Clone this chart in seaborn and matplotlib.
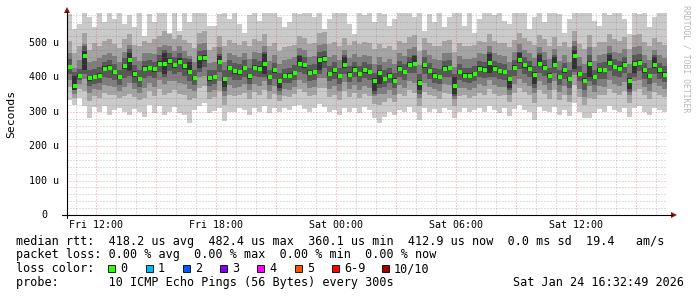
import numpy as np
import matplotlib
matplotlib.use("Agg")
import matplotlib.pyplot as plt
import seaborn as sns
from matplotlib.lines import Line2D
from matplotlib.patches import Rectangle, Polygon
import matplotlib.transforms as mtransforms

# ---------------- data (microseconds, 15-minute steps) ----------------
start_hour = 10.547          # Fri 10:32:49, hours since Fri 00:00
step_hours = 0.25
end_hour = 40.547            # Sat 16:32:49

median = [430,375,405,462,397,402,405,425,428,415,
          400,432,450,410,395,425,427,423,440,440,
          447,435,446,433,417,398,455,456,398,400,
          445,395,427,418,415,427,403,428,425,440,
          400,420,388,403,405,412,440,435,413,415,
          450,453,410,420,403,435,408,422,410,420,
          415,390,412,395,405,390,425,415,437,440,
          385,435,418,405,402,425,427,375,415,405,
          405,410,425,422,443,425,418,415,395,428,
          450,435,425,408,440,428,405,436,400,420,
          395,462,410,390,440,400,420,421,443,430,
          425,437,390,440,443,420,403,435,420,408]

ping_min = [335,320,340,318,282,315,300,318,290,305,
            312,300,292,308,300,285,320,295,318,290,
            300,315,296,292,268,305,318,325,295,302,
            310,272,300,298,310,305,290,312,300,318,
            296,310,300,312,305,318,320,308,300,312,
            322,315,298,305,292,310,300,312,295,315,
            305,282,268,285,300,290,305,298,315,300,
            275,310,300,308,295,312,305,282,300,312,
            298,305,310,300,318,305,296,310,288,308,
            320,305,300,276,315,302,298,315,292,305,
            288,325,300,282,282,295,308,300,318,305,
            300,312,285,310,318,300,292,310,305,300]

ping_2 = [372,340,365,360,332,345,340,355,350,348,
          340,345,352,342,335,340,360,345,365,348,
          355,362,352,350,335,340,370,375,338,342,
          360,320,350,345,350,355,338,358,350,362,
          338,352,330,345,342,352,365,358,345,350,
          370,368,342,350,335,360,343,355,340,352,
          345,322,320,328,340,328,352,345,362,355,
          318,358,348,345,338,355,352,318,345,348,
          340,345,355,348,365,352,345,350,328,355,
          368,356,350,325,362,352,338,362,335,350,
          328,378,342,320,340,336,350,348,365,354,
          350,360,325,360,365,348,336,358,350,342]

ping_3 = [392,352,380,395,355,365,362,378,375,372,
          360,372,385,365,355,370,385,372,392,380,
          388,388,385,380,365,360,400,405,358,362,
          390,345,378,370,372,380,362,382,376,390,
          360,375,348,365,364,372,392,385,370,372,
          398,398,366,374,360,386,366,378,364,375,
          370,345,352,352,363,350,378,370,388,385,
          340,385,372,366,360,380,378,338,370,368,
          362,368,380,374,392,378,371,373,350,381,
          396,384,376,355,390,378,362,388,358,374,
          350,408,366,343,375,358,374,373,392,380,
          376,387,348,388,392,373,360,385,374,365]

ping_4 = [410,362,392,410,375,382,385,400,398,392,
          378,398,405,385,372,398,405,398,415,400,
          418,410,415,405,390,378,415,430,375,380,
          415,360,402,392,392,402,382,405,400,400,
          378,396,360,383,385,392,415,410,390,393,
          410,428,388,396,382,410,387,400,386,397,
          392,352,370,372,384,368,402,392,412,412,
          352,410,394,385,380,402,402,345,392,387,
          384,389,402,398,402,402,394,393,362,405,
          424,410,400,370,414,403,384,412,378,396,
          370,415,388,364,390,378,396,396,418,405,
          400,412,358,400,418,396,382,410,396,387]

ping_5 = [424,362,400,420,390,396,398,418,420,410,
          394,425,418,402,388,418,420,416,432,410,
          440,428,438,425,410,392,428,448,390,394,
          438,372,420,410,408,420,396,422,418,410,
          394,414,368,397,399,406,433,428,407,409,
          420,446,404,414,397,428,402,416,404,414,
          409,360,380,389,399,384,419,409,430,433,
          362,428,412,399,396,419,421,352,409,399,
          399,404,419,416,412,419,412,409,370,422,
          443,428,419,380,433,422,399,429,394,414,
          389,425,404,383,400,394,414,415,436,424,
          419,430,366,412,436,414,397,428,414,402]

ping_6 = [436,405,410,478,404,408,412,432,435,422,
          406,440,470,418,402,432,434,430,448,470,
          455,442,455,440,445,405,462,465,405,406,
          462,402,434,425,422,434,410,435,432,468,
          406,427,395,410,412,418,462,442,420,422,
          458,462,417,428,410,458,415,430,417,427,
          422,397,420,402,412,397,432,422,445,462,
          392,442,425,412,408,432,434,400,422,412,
          412,417,432,429,468,432,425,422,402,435,
          470,442,432,415,465,435,412,458,406,427,
          402,480,417,397,448,406,427,428,466,437,
          432,445,397,448,450,427,410,458,427,415]

ping_7 = [452,415,425,490,420,425,430,445,450,440,
          420,455,482,435,420,448,450,446,465,480,
          472,458,470,456,452,420,478,480,420,422,
          468,420,450,442,438,450,428,452,448,475,
          422,442,412,425,428,435,465,458,436,438,
          475,478,434,444,426,465,432,446,434,444,
          438,414,436,420,428,414,448,438,460,465,
          410,458,441,428,425,448,450,410,438,428,
          428,433,448,445,475,448,441,438,420,451,
          475,458,448,432,472,451,428,465,422,443,
          420,490,434,414,465,422,443,444,472,453,
          448,460,414,465,468,443,426,465,443,432]

ping_8 = [470,428,450,498,445,448,455,465,472,462,
          445,475,495,458,448,470,470,468,488,495,
          492,478,490,476,462,445,498,500,442,445,
          488,445,472,465,460,470,452,475,470,490,
          448,465,438,450,452,458,486,480,460,462,
          495,498,458,466,450,480,456,468,458,466,
          462,440,460,445,452,440,470,462,482,488,
          436,480,464,452,450,470,472,430,462,452,
          452,457,470,468,490,470,464,462,446,473,
          496,480,470,456,488,474,452,481,448,466,
          446,505,458,440,488,448,466,467,490,475,
          470,482,440,488,490,466,450,480,466,456]

ping_9 = [505,470,490,528,480,500,492,505,510,498,
          485,512,525,495,490,505,500,510,520,535,
          525,510,522,508,500,485,530,535,480,488,
          520,490,508,500,495,505,492,510,505,525,
          490,500,478,488,492,495,520,515,498,500,
          528,532,496,502,490,515,495,505,498,503,
          500,482,498,486,492,480,506,500,518,522,
          478,515,500,490,490,506,508,475,500,490,
          492,495,505,504,525,506,500,500,488,508,
          530,515,506,495,522,510,492,516,490,502,
          488,535,496,482,522,488,502,503,525,510,
          506,518,482,522,525,502,490,515,502,495]

ping_max = [585,540,555,600,575,545,590,560,600,570,
            595,555,580,545,600,520,585,560,600,600,
            530,600,535,595,560,600,600,590,548,548,
            585,600,570,600,555,530,580,600,565,600,
            590,600,575,545,560,600,585,600,600,575,
            600,540,570,600,590,600,555,525,600,580,
            600,560,600,585,550,570,600,590,600,575,
            600,535,585,560,600,545,575,600,590,550,
            600,530,570,600,600,580,600,565,555,600,
            590,600,540,575,600,560,600,600,585,530,
            570,600,600,590,600,565,550,600,580,600,
            600,570,525,600,585,600,545,575,600,590]

x_ticks = [12, 18, 24, 30, 36]
x_labels = ["Fri 12:00", "Fri 18:00", "Sat 00:00", "Sat 06:00", "Sat 12:00"]
y_ticks = [0, 100, 200, 300, 400, 500]
y_labels = ["0", "100 u", "200 u", "300 u", "400 u", "500 u"]

loss_labels = ["0", "1", "2", "3", "4", "5", "6-9", "10/10"]
loss_colors = ["#26ff00", "#00b8ff", "#0059ff", "#7e00ff", "#ff00ff",
               "#ff5500", "#ff0000", "#a10000"]
smoke_colors = ["#cacaca", "#a4a4a4", "#7e7e7e", "#585858", "#323232"]

legend_lines = [
    "median rtt:  418.2 us avg  482.4 us max  360.1 us min  412.9 us now  0.0 ms sd  19.4   am/s",
    "packet loss: 0.00 % avg  0.00 % max  0.00 % min  0.00 % now",
    "loss color:",
    "probe:       10 ICMP Echo Pings (56 Bytes) every 300s",
]
timestamp = "Sat Jan 24 16:32:49 2026"

# ---------------- figure ----------------
sns.set_theme(style="white")
plt.rcParams["font.family"] = ["DejaVu Sans Mono"]

W, H = 697, 297
fig = plt.figure(figsize=(W / 100, H / 100), dpi=100)
fig.patch.set_facecolor("white")

def fx(x):
    return x / W

def fy(y):
    return 1 - y / H

ax = fig.add_axes([fx(67), fy(215), 600 / W, (215 - 13) / H])
ax.set_facecolor("white")
ymax = 587
ax.set_xlim(start_hour, end_hour)
ax.set_ylim(0, ymax)

n = len(median)
edges = start_hour + step_hours * np.arange(n + 1)
centers = edges[:-1] + step_hours / 2

layers = [(ping_min, ping_max), (ping_2, ping_9), (ping_3, ping_8),
          (ping_4, ping_7), (ping_5, ping_6)]
for (lo, hi), c in zip(layers, smoke_colors):
    ax.stairs(np.array(hi, float), edges, baseline=np.array(lo, float),
              fill=True, color=c, linewidth=0, zorder=1)

# grid (drawn over smoke, like rrdtool): dotted
dot = (0, (1, 2))
minor_c = (0.45, 0.45, 0.45, 0.45)
major_c = (0.85, 0.2, 0.2, 0.45)
for h in range(11, 41):
    ax.axvline(h, color=major_c if h % 3 == 0 else minor_c, ls=dot, lw=0.72,
               zorder=3)
for v in range(20, ymax, 20):
    ax.axhline(v, color=major_c if v % 100 == 0 else minor_c, ls=dot, lw=0.72,
               zorder=3)

# median markers coloured by loss (all 0 loss)
sns.scatterplot(x=centers, y=median, marker="s", s=5, color=loss_colors[0],
                linewidth=0, ax=ax, zorder=5, legend=False)

for s in ax.spines.values():
    s.set_visible(False)
ax.set_xticks(np.arange(11, 41))
ax.set_xticklabels([])
ax.set_yticks(np.arange(0, ymax, 20))
ax.set_yticklabels([])
ax.tick_params(axis="both", which="both", direction="out", length=1.6,
               width=0.7, color="#000000", pad=0)
ax.set_xlabel("")
ax.set_ylabel("")

# axes lines + arrows
fig.add_artist(Line2D([fx(62), fx(672)], [fy(215), fy(215)], color="black", lw=0.8))
fig.add_artist(Line2D([fx(67), fx(67)], [fy(218), fy(12)], color="black", lw=0.8))
fig.add_artist(Polygon([(fx(671), fy(212)), (fx(677), fy(215)), (fx(671), fy(218))],
                       closed=True, color="#8b1010", lw=0))
fig.add_artist(Polygon([(fx(64), fy(13)), (fx(67), fy(7)), (fx(70), fy(13))],
                       closed=True, color="#8b1010", lw=0))

# tick labels
ty = mtransforms.blended_transform_factory(fig.transFigure, ax.transData)
for v, lab in zip(y_ticks, y_labels):
    if lab == "0":
        ax.text(fx(44.5), v, lab, transform=ty, ha="center", va="center",
                fontsize=7.2, color="#000000")
    else:
        ax.text(fx(59), v, lab, transform=ty, ha="right", va="center",
                fontsize=7.2, color="#000000")
tx = mtransforms.blended_transform_factory(ax.transData, fig.transFigure)
for h, lab in zip(x_ticks, x_labels):
    ax.text(h, fy(228), lab, transform=tx, ha="center", va="baseline",
            fontsize=7.2, color="#000000")

fig.text(fx(11), fy(114), "Seconds", rotation=90, ha="center", va="center",
         fontsize=8.2, color="#000000")
fig.text(fx(686), fy(5), "RRDTOOL / TOBI OETIKER", rotation=270, ha="center",
         va="top", fontsize=5.9, color="#b8b8b8")

# legend
baselines = [244.5, 258.3, 272.0, 285.8]
for y, line in zip(baselines, legend_lines):
    fig.text(fx(16), fy(y), line, ha="left", va="baseline", fontsize=8.5,
             color="#000000")
fig.text(fx(513), fy(baselines[3]), timestamp, ha="left", va="baseline",
         fontsize=8.5, color="#000000")

sq_x = [108, 146, 183, 220, 257, 295, 332, 382]
for x0, lab, c in zip(sq_x, loss_labels, loss_colors):
    fig.add_artist(Rectangle((fx(x0), fy(272)), 7 / W, 7 / H, facecolor=c,
                             edgecolor="#000000", lw=0.6))
    fig.text(fx(x0 + 12), fy(baselines[2]), lab, ha="left", va="baseline",
             fontsize=8.5, color="#000000")

fig.savefig("out.png", dpi=100, facecolor="white")
